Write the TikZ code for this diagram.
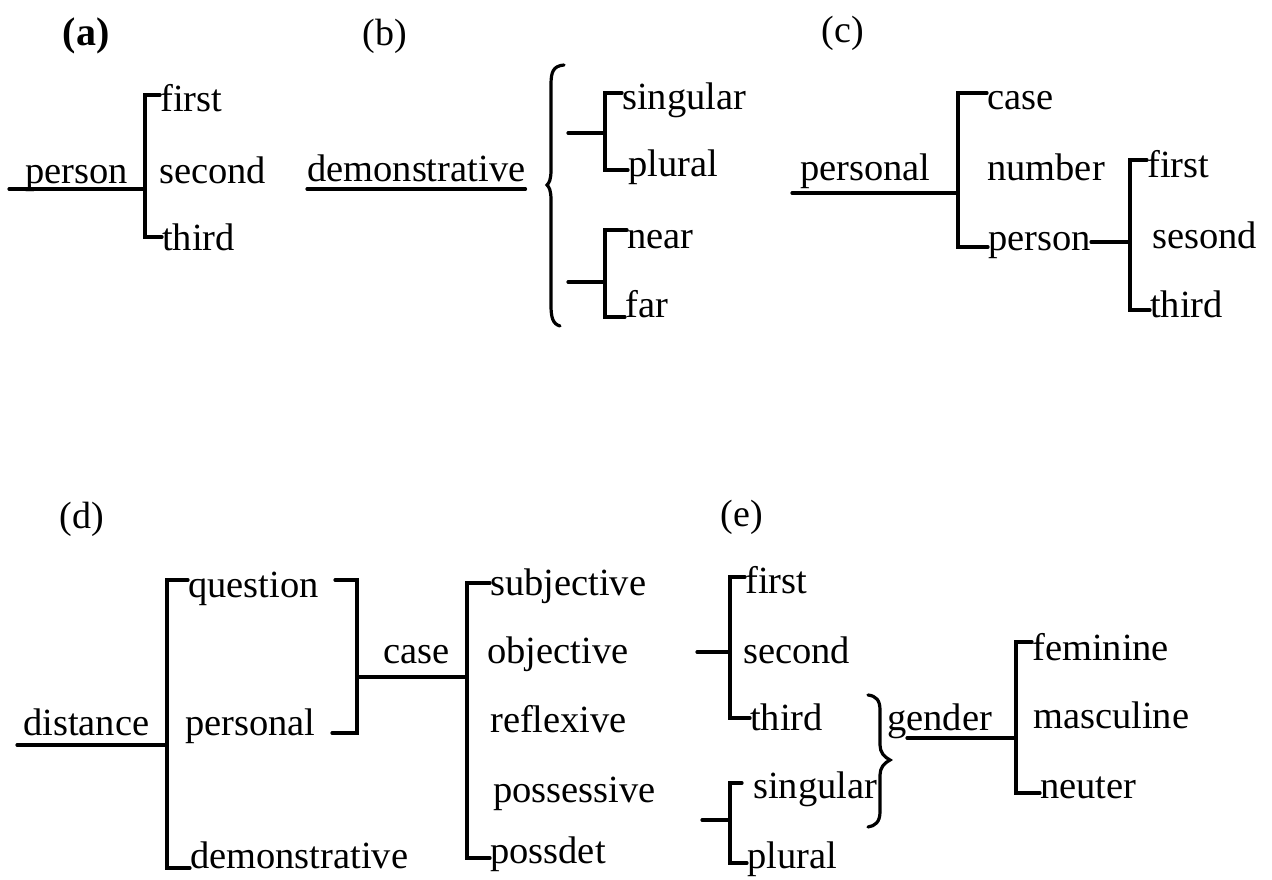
\documentclass[tikz,border=0pt]{standalone}
\usepackage{fontspec}
\setmainfont{Liberation Serif}
\begin{document}
\begin{tikzpicture}[x=1pt,y=-1pt,
  txt/.style={anchor=base west,inner sep=0pt,font=\fontsize{38.5}{44}\selectfont},
  lbl/.style={anchor=center,inner sep=0pt,font=\fontsize{38}{44}\selectfont},
  ln/.style={line width=3.2pt,line cap=round,line join=miter}]
\useasboundingbox (0,0) rectangle (1272,880);
\fill[white] (0,0) rectangle (1272,880);
% ---------- labels
\node[lbl,font=\fontsize{40}{44}\selectfont\bfseries] (la) at (86,36) {(a)};
\node[lbl] (lb) at (385,36) {(b)};
\node[lbl] (lc) at (843,33) {(c)};
\node[lbl] (ld) at (82,519) {(d)};
\node[lbl] (le) at (742,517) {(e)};
% ---------- (a)
\node[txt] (aPerson) at (25,183) {person};
\node[txt] (aFirst)  at (160,112) {first};
\node[txt] (aSecond) at (159,183) {second};
\node[txt] (aThird)  at (162,250) {third};
\coordinate (aS) at (9,189);
\coordinate (aJt) at (145,95);
\coordinate (aJb) at (145,237);
\draw[ln] (aS) -- (aS -| aJt);
\draw[ln] (aJt -| aFirst.west) -- (aJt) -- (aJb) -- (aJb -| aThird.west);
% ---------- (b)
\node[txt] (bDem) at (307,182) {demonstrative};
\node[txt] (bSing) at (622,110) {singular};
\node[txt] (bPlur) at (628,176) {plural};
\node[txt] (bNear) at (627,248) {near};
\node[txt] (bFar)  at (625,317) {far};
\draw[ln] ([yshift=-7pt]bDem.base west) -- ([yshift=-7pt]bDem.base east);
\coordinate (bBr) at (547,185);
\draw[ln] (564,65) .. controls (553,66) and (551,72) .. (551,85)
  -- (551,170) .. controls (551,180) and (549,183) .. (bBr)
  .. controls (549,187) and (551,190) .. (551,200)
  -- (551,305) .. controls (551,318) and (553,324) .. (560,326);
\coordinate (bU) at (568,133);
\coordinate (bUt) at (605,93);
\coordinate (bUb) at (605,170);
\draw[ln] (bU) -- (bU -| bUt);
\draw[ln] (bUt -| bSing.west) -- (bUt) -- (bUb) -- (bUb -| bPlur.west);
\coordinate (bL) at (568,282);
\coordinate (bLt) at (605,230);
\coordinate (bLb) at (605,317);
\draw[ln] (bL) -- (bL -| bLt);
\draw[ln] (bLt -| bNear.west) -- (bLt) -- (bLb) -- (bLb -| bFar.west);
% ---------- (c)
\node[txt] (cPersonal) at (800,180) {personal};
\node[txt] (cCase)   at (987,110) {case};
\node[txt] (cNumber) at (987,180) {number};
\node[txt] (cPerson) at (988,250) {person};
\node[txt] (cFirst)  at (1147,178) {first};
\node[txt] (cSesond) at (1152,248) {sesond};
\node[txt] (cThird)  at (1150,317) {third};
\coordinate (cS) at (792,193);
\coordinate (cJt) at (958,93);
\coordinate (cJb) at (958,247);
\draw[ln] (cS) -- (cS -| cJt);
\draw[ln] (cJt -| cCase.west) -- (cJt) -- (cJb) -- (cJb -| cPerson.west);
\coordinate (cP) at (1130,242);
\coordinate (cKt) at (1130,160);
\coordinate (cKb) at (1130,310);
\draw[ln] (cPerson.east |- cP) -- (cP);
\draw[ln] (cKt -| cFirst.west) -- (cKt) -- (cKb) -- (cKb -| cThird.west);
% ---------- (d)
\node[txt] (dDist) at (23,735) {distance};
\node[txt] (dQuest) at (188,597) {question};
\node[txt] (dPers) at (185,735) {personal};
\node[txt] (dDem) at (190,868) {demonstrative};
\node[txt] (dCase) at (383,663) {case};
\node[txt] (dSubj) at (490,595) {subjective};
\node[txt] (dObj) at (487,663) {objective};
\node[txt] (dRefl) at (490,732) {reflexive};
\node[txt] (dPoss) at (493,802) {possessive};
\node[txt] (dPdet) at (490,863) {possdet};
\coordinate (dS) at (17,745);
\coordinate (dJt) at (167,580);
\coordinate (dJb) at (167,868);
\draw[ln] (dS) -- (dS -| dJt);
\draw[ln] (dJt -| dQuest.west) -- (dJt) -- (dJb) -- (dJb -| dDem.west);
\coordinate (dRt) at (357,580);
\coordinate (dRb) at (357,733);
\coordinate (dRtE) at (335,580);
\coordinate (dRbE) at (332,733);
\draw[ln] (dRtE) -- (dRt) -- (dRb) -- (dRbE);
\coordinate (dM) at (357,677);
\coordinate (dKt) at (467,583);
\coordinate (dKb) at (467,858);
\draw[ln] (dM) -- (dM -| dKt);
\draw[ln] (dKt -| dSubj.west) -- (dKt) -- (dKb) -- (dKb -| dPdet.west);
% ---------- (e)
\node[txt] (eFirst) at (745,593) {first};
\node[txt] (eSecond) at (743,663) {second};
\node[txt] (eThird) at (750,730) {third};
\node[txt] (eSing) at (753,798) {singular};
\node[txt] (ePlur) at (747,868) {plural};
\node[txt] (eGender) at (887,730) {gender};
\node[txt] (eFem) at (1032,660) {feminine};
\node[txt] (eMasc) at (1033,728) {masculine};
\node[txt] (eNeut) at (1040,798) {neuter};
\coordinate (eU) at (697,652);
\coordinate (eUt) at (730,577);
\coordinate (eUb) at (730,718);
\draw[ln] (eU) -- (eU -| eUt);
\draw[ln] (eUt -| eFirst.west) -- (eUt) -- (eUb) -- (eUb -| eThird.west);
\coordinate (eL) at (702,820);
\coordinate (eLt) at (730,783);
\coordinate (eLtE) at (742,783);
\coordinate (eLb) at (730,863);
\draw[ln] (eL) -- (eL -| eLt);
\draw[ln] (eLtE) -- (eLt) -- (eLb) -- (eLb -| ePlur.west);
\coordinate (eBr) at (890,760);
\draw[ln] (868,695) .. controls (876,696) and (880,700) .. (880,710)
  -- (880,745) .. controls (880,752) and (884,757) .. (eBr)
  .. controls (884,763) and (880,768) .. (880,775)
  -- (880,812) .. controls (880,822) and (875,826) .. (868,827);
\coordinate (eG) at (907,738);
\coordinate (eKt) at (1016,642);
\coordinate (eKb) at (1016,793);
\draw[ln] (eG) -- (eG -| eKt);
\draw[ln] (eKt -| eFem.west) -- (eKt) -- (eKb) -- (eKb -| eNeut.west);
\end{tikzpicture}
\end{document}
